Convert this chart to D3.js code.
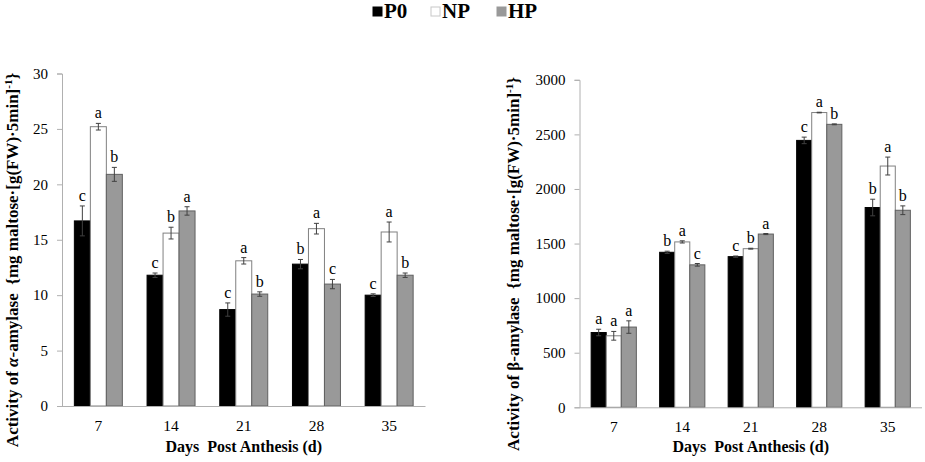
<!DOCTYPE html>
<html><head><meta charset="utf-8">
<script src="https://cdn.jsdelivr.net/npm/d3@7"></script>
<style>html,body{margin:0;padding:0;background:#fff;}</style></head>
<body>
<svg id="c" width="925" height="462" font-family="Liberation Serif"></svg>
<script>
const days = ["7","14","21","28","35"];
const series = ["P0","NP","HP"];
const seriesFill = ["#000000","#ffffff","#999999"];
const seriesStroke = ["#000000","#808080","#606060"];

const alphaP0 = [16.7, 11.8, 8.7, 12.8, 10.0];
const alphaNP = [25.2, 15.6, 13.1, 16.0, 15.7];
const alphaHP = [20.9, 17.6, 10.1, 11.0, 11.8];
const alphaErrP0 = [1.35, 0.2, 0.6, 0.42, 0.12];
const alphaErrNP = [0.3, 0.53, 0.29, 0.48, 0.9];
const alphaErrHP = [0.63, 0.38, 0.2, 0.42, 0.2];
const alphaLetP0 = ["c","c","c","b","c"];
const alphaLetNP = ["a","b","a","a","a"];
const alphaLetHP = ["b","a","b","c","b"];
const alphaTicks = [0,5,10,15,20,25,30];

const betaP0 = [685, 1420, 1380, 2445, 1830];
const betaNP = [655, 1515, 1453, 2700, 2210];
const betaHP = [735, 1305, 1587, 2592, 1805];
const betaErrP0 = [30, 10, 6, 30, 76];
const betaErrNP = [40, 10, 4, 3, 82];
const betaErrHP = [57, 12, 5, 4, 40];
const betaLetP0 = ["a","b","c","c","b"];
const betaLetNP = ["a","a","b","a","a"];
const betaLetHP = ["a","c","a","b","b"];
const betaTicks = [0,500,1000,1500,2000,2500,3000];

const FONT = "Liberation Serif";
const svg = d3.select("#c");

function panel(opt){
  const vals = opt.vals, errs = opt.errs, lets = opt.lets;
  const x = d3.scaleBand().domain(days).range([opt.x0, opt.x1]).paddingInner(0.34).paddingOuter(0.17);
  const xs = d3.scaleBand().domain(series).range([0, x.bandwidth()]);
  const y = d3.scaleLinear().domain([0, opt.ymax]).range([opt.y0, opt.y1]);
  const g = svg.append("g");

  const ya = g.append("g").attr("transform", `translate(${opt.x0},0)`)
    .call(d3.axisLeft(y).tickValues(opt.ticks).tickSize(5).tickPadding(9).tickFormat(d3.format("d")));
  ya.attr("font-family", FONT).attr("font-size", 15);
  ya.selectAll("path,line").attr("stroke","#b0b0b0");
  ya.selectAll("text").attr("font-family", FONT).attr("font-size",15).attr("fill","#000");

  const data = [];
  days.forEach((d,i)=>series.forEach((s,j)=>data.push({d, s, j, v: vals[j][i], e: errs[j][i], l: lets[j][i]})));
  g.selectAll("rect.bar").data(data).enter().append("rect")
    .attr("x", r => x(r.d) + xs(r.s))
    .attr("y", r => y(r.v))
    .attr("width", xs.bandwidth())
    .attr("height", r => y(0) - y(r.v))
    .attr("fill", r => seriesFill[r.j])
    .attr("stroke", r => seriesStroke[r.j])
    .attr("stroke-width", 1);

  const xa = g.append("g").attr("transform", `translate(0,${opt.y0})`)
    .call(d3.axisBottom(x).tickSize(0).tickPadding(14));
  xa.attr("font-family", FONT).attr("font-size", 15);
  xa.select("path").attr("stroke","#b0b0b0").attr("d", `M${opt.x0},0.5H${opt.x1}`);
  xa.selectAll("text").attr("font-family", FONT).attr("font-size",15.5).attr("fill","#000");

  const eb = g.selectAll("g.err").data(data).enter().append("g").attr("stroke","#404040").attr("stroke-width",1);
  const cx = r => x(r.d) + xs(r.s) + xs.bandwidth()/2;
  eb.append("line").attr("x1",cx).attr("x2",cx).attr("y1",r=>y(r.v+r.e)).attr("y2",r=>y(r.v-r.e));
  eb.append("line").attr("x1",r=>cx(r)-2.5).attr("x2",r=>cx(r)+2.5).attr("y1",r=>y(r.v+r.e)).attr("y2",r=>y(r.v+r.e));
  eb.append("line").attr("x1",r=>cx(r)-2.5).attr("x2",r=>cx(r)+2.5).attr("y1",r=>y(r.v-r.e)).attr("y2",r=>y(r.v-r.e));

  g.selectAll("text.let").data(data).enter().append("text")
    .attr("x", cx).attr("y", r => y(r.v + r.e) - 5)
    .attr("text-anchor","middle").attr("font-size",16).attr("font-family",FONT).text(r => r.l);

  g.append("text").attr("x", (opt.x0+opt.x1)/2).attr("y", 452)
    .attr("text-anchor","middle").attr("font-size",16).attr("font-weight","bold").attr("font-family",FONT)
    .style("white-space","pre").text("Days  Post Anthesis (d)");

  const t = g.append("text").attr("transform", `translate(${opt.tx},${opt.ty}) rotate(-90)`)
    .attr("text-anchor","middle").attr("font-size",17).attr("font-weight","bold").attr("font-family",FONT);
  t.append("tspan").text("Activity of ");
  t.append("tspan").attr("font-style", opt.italic ? "italic" : "normal").text(opt.greek);
  t.append("tspan").text("-amylase  {mg maltose·[g(FW)·5min]").style("white-space","pre");
  t.append("tspan").attr("font-size",11).attr("dy",-6).text("-1");
  t.append("tspan").attr("dy",6).text("}");
}

panel({x0:62, x1:425.5, y0:406, y1:73.5, ymax:30, ticks:alphaTicks,
  vals:[alphaP0,alphaNP,alphaHP], errs:[alphaErrP0,alphaErrNP,alphaErrHP], lets:[alphaLetP0,alphaLetNP,alphaLetHP],
  tx:18, ty:260, greek:"α", italic:true});
panel({x0:579.5, x1:922, y0:407.3, y1:79.8, ymax:3000, ticks:betaTicks,
  vals:[betaP0,betaNP,betaHP], errs:[betaErrP0,betaErrNP,betaErrHP], lets:[betaLetP0,betaLetNP,betaLetHP],
  tx:519, ty:264, greek:"β", italic:false});

const lg = svg.append("g").attr("font-family", FONT);
const legX = [373, 431, 497];
series.forEach((s,j)=>{
  lg.append("rect").attr("x",legX[j]).attr("y",7).attr("width",9).attr("height",9)
    .attr("fill",seriesFill[j]).attr("stroke", j===1 ? "#c8c8c8" : seriesFill[j]);
  lg.append("text").attr("x",legX[j]+11).attr("y",17.5).attr("font-size",21).attr("font-weight","bold").attr("font-family",FONT).text(s);
});
</script>
</body></html>
